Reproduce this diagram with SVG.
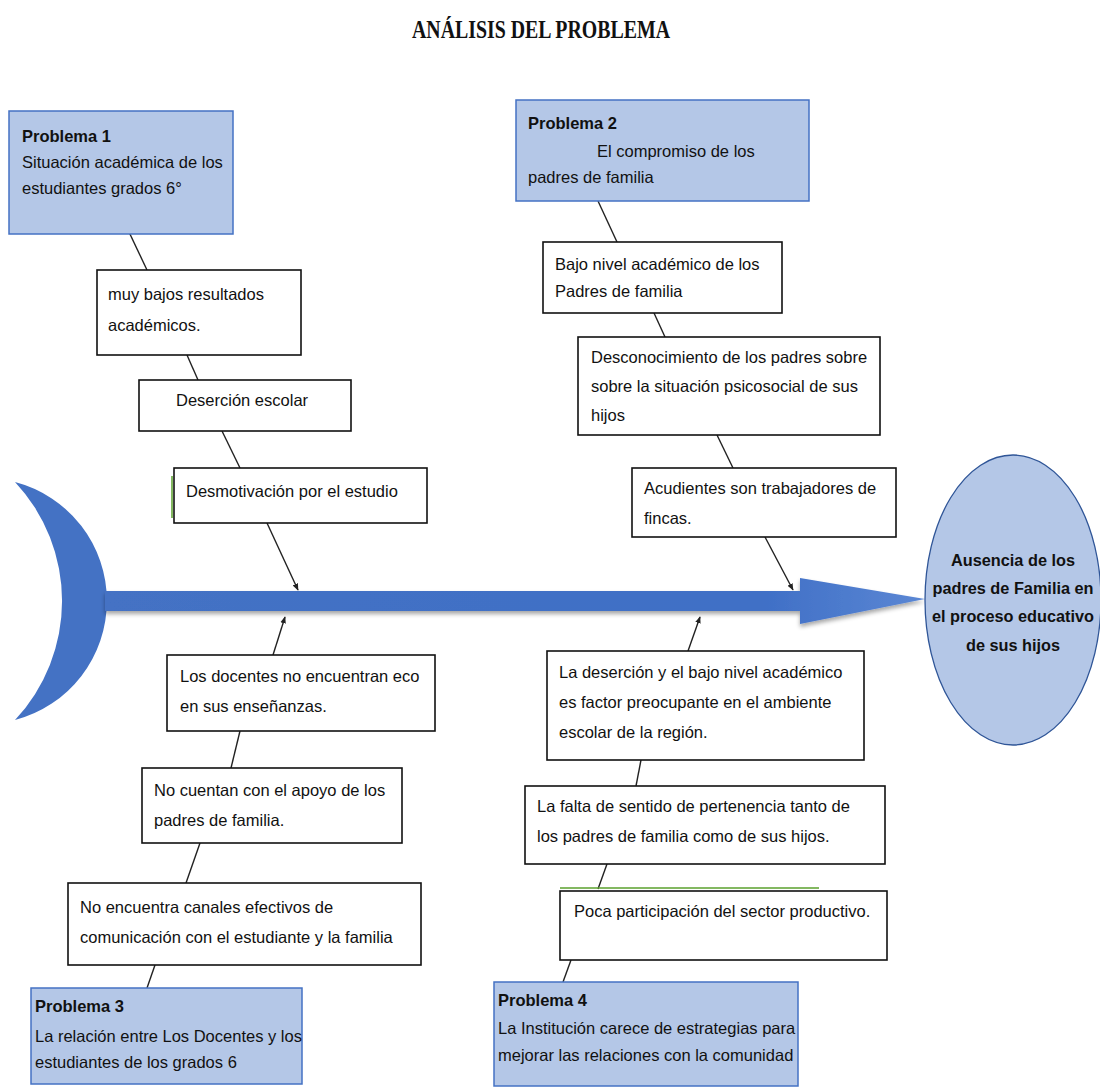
<svg xmlns="http://www.w3.org/2000/svg" width="1100" height="1087" viewBox="0 0 1100 1087">
<style>
  .t { font-family: "Liberation Sans", Arial, sans-serif; font-size: 16.5px; fill: #111; }
  .e { font-size: 16.3px; }
  .b { font-weight: bold; }
  .box { fill: #ffffff; stroke: #111; stroke-width: 1.6; }
  .prob { fill: #b4c7e7; stroke: #4472c4; stroke-width: 1.5; }
  .con { stroke: #222; stroke-width: 1.4; fill: none; }
  .title { font-family: "Liberation Serif", "Times New Roman", serif; font-weight: bold; font-size: 25px; fill: #111; }
</style>
<defs>
  <marker id="ah" viewBox="0 0 10 10" refX="9" refY="5" markerWidth="7" markerHeight="7" orient="auto" markerUnits="userSpaceOnUse">
    <path d="M0,1 L10,5 L0,9 Z" fill="#222"/>
  </marker>
  <linearGradient id="sp" x1="0" y1="0" x2="1" y2="0">
    <stop offset="0" stop-color="#4472c4"/>
    <stop offset="0.8" stop-color="#3f6fc6"/>
    <stop offset="1" stop-color="#5b87d4"/>
  </linearGradient>
  <filter id="sh" x="-5%" y="-30%" width="110%" height="170%">
    <feDropShadow dx="0" dy="3" stdDeviation="2" flood-color="#000" flood-opacity="0.35"/>
  </filter>
</defs>
<rect width="1100" height="1087" fill="#fff"/>

<text class="title" x="412" y="38" textLength="258" lengthAdjust="spacingAndGlyphs">ANÁLISIS  DEL PROBLEMA</text>

<g id="tail">
  <path d="M15,482 A123,123 0 0 1 15,720 A174,174 0 0 0 15,482 Z" fill="#4472c4"/>
</g>
<g id="spine" filter="url(#sh)">
  <path d="M105,591 L800,591 L800,578 L925,599 L800,624 L800,611 L105,611 Z" fill="url(#sp)"/>
</g>

<g id="connectors">
  <line class="con" x1="120" y1="213" x2="147" y2="270"/>
  <line class="con" x1="187" y1="355" x2="198" y2="380"/>
  <line class="con" x1="222" y1="431" x2="240" y2="468"/>
  <line class="con" x1="267" y1="523" x2="298" y2="590" marker-end="url(#ah)"/>
  <line class="con" x1="598" y1="201" x2="617" y2="242"/>
  <line class="con" x1="654" y1="313" x2="665" y2="337"/>
  <line class="con" x1="717" y1="435" x2="733" y2="468"/>
  <line class="con" x1="765" y1="537" x2="793" y2="590" marker-end="url(#ah)"/>
  <line class="con" x1="273" y1="655" x2="285" y2="617" marker-end="url(#ah)"/>
  <line class="con" x1="240" y1="731" x2="231" y2="768"/>
  <line class="con" x1="200" y1="843" x2="186" y2="883"/>
  <line class="con" x1="155" y1="965" x2="147" y2="988"/>
  <line class="con" x1="688" y1="651" x2="700" y2="617" marker-end="url(#ah)"/>
  <line class="con" x1="641" y1="760" x2="636" y2="786"/>
  <line class="con" x1="607" y1="864" x2="598" y2="889"/>
  <line class="con" x1="571" y1="960" x2="563" y2="982"/>
</g>

<g id="p1">
  <rect class="prob" x="9" y="111" width="224" height="123"/>
  <text class="t b" x="22" y="142">Problema 1</text>
  <text class="t" x="22" y="168">Situación académica de los</text>
  <text class="t" x="22" y="194">estudiantes grados 6°</text>
</g>
<g id="n1">
  <rect class="box" x="97" y="270" width="204" height="85"/>
  <text class="t" x="108" y="300">muy bajos resultados</text>
  <text class="t" x="108" y="331">académicos.</text>
</g>
<g id="n2">
  <rect class="box" x="139" y="380" width="212" height="51"/>
  <text class="t" x="176" y="406">Deserción escolar</text>
</g>
<g id="n3">
  <rect class="box" x="174" y="468" width="253" height="55"/>
  <line x1="172" y1="476" x2="172" y2="518" stroke="#5aa02c" stroke-width="1.5"/>
  <text class="t" x="186" y="497">Desmotivación por el estudio</text>
</g>

<g id="p2">
  <rect class="prob" x="516" y="100" width="293" height="101"/>
  <text class="t b" x="528" y="129">Problema 2</text>
  <text class="t" x="597" y="157">El compromiso de los</text>
  <text class="t" x="528" y="183">padres de familia</text>
</g>
<g id="n4">
  <rect class="box" x="543" y="242" width="239" height="71"/>
  <text class="t" x="555" y="270">Bajo nivel académico de los</text>
  <text class="t" x="555" y="297">Padres de familia</text>
</g>
<g id="n5">
  <rect class="box" x="578" y="337" width="302" height="98"/>
  <text class="t" x="591" y="363">Desconocimiento de los padres sobre</text>
  <text class="t" x="591" y="392">sobre la situación  psicosocial de sus</text>
  <text class="t" x="591" y="421">hijos</text>
</g>
<g id="n6">
  <rect class="box" x="632" y="468" width="264" height="69"/>
  <text class="t" x="644" y="494">Acudientes son trabajadores  de</text>
  <text class="t" x="644" y="524">fincas.</text>
</g>

<g id="effect">
  <ellipse cx="1013" cy="600" rx="88" ry="145" fill="#b4c7e7" stroke="#2f5597" stroke-width="1.3"/>
  <text class="t e b" x="1013" y="566" text-anchor="middle">Ausencia de los</text>
  <text class="t e b" x="1013" y="594" text-anchor="middle">padres de Familia en</text>
  <text class="t e b" x="1013" y="622" text-anchor="middle">el proceso educativo</text>
  <text class="t e b" x="1013" y="651" text-anchor="middle">de sus hijos</text>
</g>

<g id="n7">
  <rect class="box" x="167" y="655" width="268" height="76"/>
  <text class="t" x="180" y="682">Los docentes no encuentran eco</text>
  <text class="t" x="180" y="712">en sus enseñanzas.</text>
</g>
<g id="n8">
  <rect class="box" x="142" y="768" width="260" height="75"/>
  <text class="t" x="154" y="796">No cuentan con el apoyo de los</text>
  <text class="t" x="154" y="826">padres de familia.</text>
</g>
<g id="n9">
  <rect class="box" x="68" y="883" width="353" height="82"/>
  <text class="t" x="80" y="913">No encuentra canales efectivos de</text>
  <text class="t" x="80" y="943">comunicación con el estudiante y la familia</text>
</g>
<g id="p3">
  <rect class="prob" x="31" y="988" width="271" height="96"/>
  <text class="t b" x="35" y="1012">Problema 3</text>
  <text class="t" x="35" y="1042">La relación entre Los Docentes y los</text>
  <text class="t" x="35" y="1068">estudiantes  de los grados 6</text>
</g>

<g id="n10">
  <rect class="box" x="547" y="651" width="317" height="109"/>
  <text class="t" x="559" y="678">La deserción  y el bajo nivel académico</text>
  <text class="t" x="559" y="708">es factor preocupante en  el ambiente</text>
  <text class="t" x="559" y="738">escolar de la región.</text>
</g>
<g id="n11">
  <rect class="box" x="525" y="786" width="360" height="78"/>
  <text class="t" x="537" y="812">La falta de sentido de pertenencia tanto de</text>
  <text class="t" x="537" y="842">los padres de familia  como de sus hijos.</text>
</g>
<g id="n12">
  <line x1="560" y1="888" x2="819" y2="888" stroke="#5aa02c" stroke-width="1.5"/>
  <rect class="box" x="560" y="891" width="327" height="69"/>
  <text class="t" x="574" y="917">Poca participación del sector productivo.</text>
</g>
<g id="p4">
  <rect class="prob" x="494" y="982" width="304" height="104"/>
  <text class="t b" x="498" y="1006">Problema 4</text>
  <text class="t" x="498" y="1034">La Institución carece de estrategias para</text>
  <text class="t" x="498" y="1061">mejorar las relaciones con la comunidad</text>
</g>
</svg>
